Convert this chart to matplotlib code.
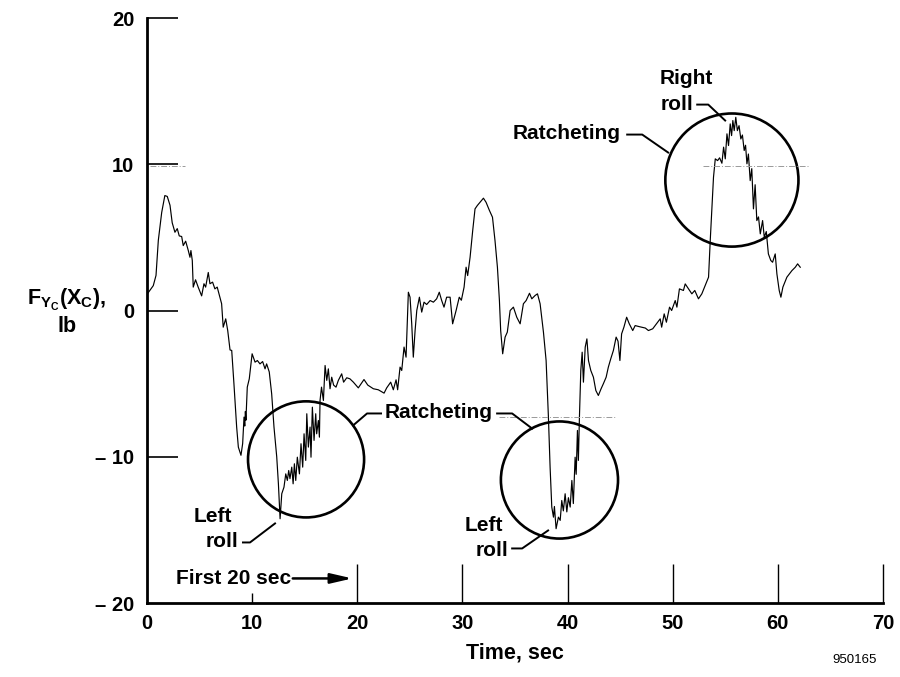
import matplotlib
matplotlib.use("Agg")
import matplotlib.pyplot as plt
from matplotlib.patches import Ellipse

plt.rcParams["font.family"] = ["Liberation Sans", "DejaVu Sans"]
plt.rcParams["font.weight"] = "bold"
plt.rcParams["mathtext.fontset"] = "custom"
plt.rcParams["mathtext.rm"] = "Liberation Sans:bold"
plt.rcParams["mathtext.it"] = "Liberation Sans:bold"
plt.rcParams["mathtext.bf"] = "Liberation Sans:bold"
plt.rcParams["mathtext.default"] = "rm"

# side force record, lb vs time, sec
time_s = [
    0.1, 0.6, 0.86, 1.08, 1.4, 1.7, 1.93, 2.19, 2.4, 2.66, 2.88, 3.07, 3.3, 3.45,
    3.68, 3.93, 4.09, 4.18, 4.31, 4.4, 4.62, 4.87, 5.2, 5.42, 5.58, 5.83, 5.99,
    6.24, 6.46, 6.68, 6.94, 7.1, 7.25, 7.49, 7.68, 7.9,
    8.06, 8.27, 8.53, 8.69, 8.94, 9.1, 9.23, 9.3, 9.36, 9.41, 9.54, 9.73, 9.86,
    10.0, 10.28, 10.5, 10.75, 11.0, 11.23, 11.38, 11.63, 11.86, 12.08, 12.34,
    12.5, 12.66, 12.82,
    13.03, 13.2, 13.35, 13.48, 13.6, 13.77, 13.9, 14.02, 14.15, 14.3, 14.5,
    14.65, 14.81, 14.94, 15.1, 15.2, 15.35, 15.51, 15.6, 15.73, 15.89, 16.05,
    16.14, 16.3, 16.4, 16.46,
    16.6, 16.78, 16.94, 17.1, 17.25, 17.41, 17.57, 17.75, 17.98, 18.2, 18.52,
    18.7, 19.0, 19.3, 19.63, 20.1, 20.64, 21.0, 21.53, 22.0, 22.55, 22.8, 23.18,
    23.43, 23.69, 23.84, 24.07, 24.23, 24.45, 24.64, 24.86, 25.02, 25.18, 25.33,
    25.5, 25.66, 25.91, 26.13, 26.35, 26.6, 26.93, 27.24, 27.55, 27.8, 28.03,
    28.25, 28.5, 28.83, 29.07, 29.4, 29.7, 29.9, 30.16, 30.35, 30.5, 30.73,
    30.98, 31.2, 31.42, 31.68, 32.0, 32.25, 32.57, 32.86, 33.1, 33.33, 33.52,
    33.64, 33.83, 34.06, 34.27, 34.54, 34.85, 35.17, 35.49, 35.8, 36.06, 36.38,
    36.6, 36.92, 37.14, 37.39, 37.71, 37.96, 38.18, 38.34, 38.5, 38.66, 38.75,
    38.91, 39.13, 39.3, 39.45, 39.6, 39.77, 39.93, 40.08, 40.25, 40.41, 40.55,
    40.72, 40.82, 40.94, 41.03, 41.13, 41.26, 41.39, 41.51, 41.68, 41.84, 41.99,
    42.21, 42.46, 42.69, 42.93, 43.19, 43.41, 43.67, 43.88, 44.11, 44.36, 44.62,
    44.8, 44.98, 45.14, 45.36, 45.62, 45.87, 46.2, 46.43, 46.8, 47.06, 47.4,
    47.69, 48.1, 48.81, 48.95, 49.19, 49.4, 49.7, 49.9, 50.24, 50.4, 50.64,
    51.02, 51.19, 51.5, 51.82, 52.1, 52.45, 52.77, 53.09, 53.41, 53.57, 53.73,
    53.88, 54.05, 54.27, 54.46, 54.68, 54.84, 55.0, 55.16, 55.31, 55.47, 55.6,
    55.72, 55.85, 56.0, 56.15, 56.31, 56.48, 56.63, 56.8, 56.93, 57.06, 57.2,
    57.37, 57.52, 57.68, 57.84, 58.0, 58.16, 58.33, 58.55, 58.71, 58.9, 59.1,
    59.33, 59.5, 59.75, 59.91, 60.13, 60.29, 60.48, 60.86, 61.34, 61.66, 61.88,
    62.13,
]
force_lb = [
    1.2, 1.7, 2.4, 4.8, 6.7, 7.86, 7.8, 7.2, 6.0, 5.35, 5.6, 5.1, 5.06, 4.44,
    4.74, 4.1, 3.64, 4.1, 3.42, 1.6, 2.1, 1.6, 1.0, 1.83, 1.6, 2.6, 1.83,
    1.94, 1.48, 1.6, 0.9, 0.46, -1.14, -0.57, -1.37, -2.7,
    -2.73, -5.0, -7.97, -9.34, -9.9, -9.1, -7.29, -7.9, -6.9, -7.5, -5.24, -4.67,
    -3.87, -2.96, -3.53, -3.42, -3.65, -3.49, -3.99, -3.65, -4.2, -5.7, -7.97,
    -10.0, -11.85, -14.24, -12.53,
    -12.08, -11.17, -11.62, -10.94, -11.5, -10.71, -11.85, -10.48, -11.62,
    -10.03, -11.17, -9.11, -10.71, -8.43, -10.25, -7.06, -9.34, -7.97, -10.03,
    -6.61, -8.88, -7.06, -8.43, -7.52, -8.66, -6.15,
    -5.24, -6.15, -3.76, -4.78, -3.99, -5.35, -4.56, -5.1, -5.24, -4.78, -4.33,
    -4.9, -4.6, -4.67, -4.9, -5.29, -4.72, -5.1, -5.35, -5.42, -5.65, -5.29,
    -4.9, -5.42, -4.74, -5.42, -3.87, -4.1, -2.5, -3.19, 1.25, 0.91, -0.91,
    -3.19, -1.37, 0.0, 0.91, -0.11, 0.57, 0.41, 0.68, 0.57, 0.8, 1.25, 0.68,
    0.23, 0.91, 0.91, -0.91, 0.0, 0.91, 0.7, 1.6, 2.96, 2.39, 3.64, 5.47, 6.95,
    7.18, 7.4, 7.68, 7.4, 6.84, 6.38, 4.78, 2.96, 0.68, -1.37, -2.96, -1.82,
    -1.48, 0.0, 0.23, -0.46, -0.91, 0.46, 0.68, 1.18, 0.8, 1.03, 1.14, 0.46,
    -1.5, -3.42, -7.29, -10.71, -13.44, -14.13, -13.4, -14.92, -14.13, -14.35,
    -12.99, -13.7, -12.53, -13.77, -12.8, -13.44, -11.62, -13.2, -10.03, -11.2,
    -8.2, -10.25, -7.29, -4.1, -2.85, -4.9, -2.5, -1.94, -3.42, -4.1, -4.56,
    -5.47, -5.81, -5.35, -5.0, -4.56, -3.87, -3.3, -2.73, -1.82, -2.1, -3.42,
    -1.6, -1.14, -0.46, -0.91, -1.37, -1.03, -1.1, -1.14, -1.2, -1.37, -1.25,
    -0.57, -1.14, -0.23, -0.8, 0.23, 0.0, 0.68, 0.23, 1.48, 1.37, 1.82, 1.48,
    1.14, 1.37, 0.8, 1.14, 1.71, 2.28, 4.78, 7.06, 9.11, 10.37, 10.25, 10.44,
    10.07, 11.17, 10.37, 12.08, 11.28, 12.76, 11.96, 12.99, 12.3, 13.21, 12.3,
    12.64, 11.73, 12.0, 10.94, 11.3, 10.03, 10.7, 8.88, 9.7, 6.95, 8.6, 6.15,
    6.4, 5.24, 6.15, 5.01, 5.4, 3.87, 3.42, 3.3, 3.87, 2.5, 1.37, 0.91, 1.6,
    2.28, 2.73, 2.96, 3.19, 2.96,
]

x_ticks = [0, 10, 20, 30, 40, 50, 60, 70]
y_ticks = [-20, -10, 0, 10, 20]
y_tick_labels = ["\u2013 20", "\u2013 10", "0", "10", "20"]

# gray trace reference lines: (t start, t end, level)
ref_lines = [(0.3, 3.6, 9.9), (33.5, 44.5, -7.3), (52.9, 62.9, 9.9)]

# highlighted regions: centre (t, lb) and radius in seconds
circles = [(15.13, -10.18, 5.52), (39.23, -11.59, 5.57), (55.63, 8.92, 6.33)]

fig = plt.figure(figsize=(9, 6.77), dpi=100)
ax = fig.add_axes([0.1633, 0.1093, 0.8178, 0.8641])

ax.plot(time_s, force_lb, color="black", lw=0.85)
for t0, t1, lvl in ref_lines:
    ax.plot([t0, t1], [lvl, lvl], color="#999999", lw=0.7, ls=(0, (6, 2, 1, 2)))

ax.set_xlim(0, 70)
ax.set_ylim(-20, 20)

# keep circles round on screen
bb = ax.get_window_extent()
sx = bb.width / 70.0
sy = bb.height / 40.0
for cx, cy, r in circles:
    ax.add_patch(Ellipse((cx, cy), 2 * r, 2 * r * sx / sy, fill=False,
                         ec="black", lw=1.9, clip_on=False))

for side in ("top", "right"):
    ax.spines[side].set_visible(False)
for side in ("left", "bottom"):
    ax.spines[side].set_linewidth(2.0)

ax.set_xticks(x_ticks)
ax.set_xticklabels([str(v) for v in x_ticks], fontsize=14.5, fontweight="bold")
ax.set_yticks(y_ticks)
ax.set_yticklabels(y_tick_labels, fontsize=14.5, fontweight="bold")
ax.tick_params(axis="y", direction="in", length=22, width=1.2, pad=9)
ax.tick_params(axis="x", direction="in", length=28, width=1.0, pad=8)
xt = ax.xaxis.get_major_ticks()
xt[0].tick1line.set_visible(False)
xt[1].tick1line.set_markersize(7)
ax.yaxis.get_major_ticks()[0].tick1line.set_visible(False)

ax.set_xlabel("Time, sec", fontsize=15.5, fontweight="bold", labelpad=7)

fig.text(0.074, 0.557, r"$F_{Y_C}(X_C)$,", ha="center", va="center", fontsize=15.5)
fig.text(0.074, 0.517, "lb", ha="center", va="center", fontsize=15.5)
fig.text(0.95, 0.025, "950165", ha="center", va="center", fontsize=9.5,
         fontweight="normal")

lab = dict(fontsize=15, fontweight="bold", clip_on=False)
leader = dict(color="black", lw=1.4, clip_on=False)

ax.text(8.09, -14.08, "Left", ha="right", va="center", **lab)
ax.text(8.66, -15.79, "roll", ha="right", va="center", **lab)
ax.plot([9.13, 9.8, 12.18], [-15.86, -15.86, -14.56], **leader)

ax.text(27.78, -6.97, "Ratcheting", ha="center", va="center", **lab)
ax.plot([19.6, 20.93, 22.26], [-7.86, -7.04, -7.04], **leader)
ax.plot([33.3, 34.73, 36.63], [-7.04, -7.04, -8.07], **leader)

ax.text(33.87, -14.7, "Left", ha="right", va="center", **lab)
ax.text(34.35, -16.4, "roll", ha="right", va="center", **lab)
ax.plot([34.73, 35.68, 38.15], [-16.27, -16.27, -15.04], **leader)

ax.text(45.0, 12.1, "Ratcheting", ha="right", va="center", **lab)
ax.plot([45.67, 47.1, 49.57], [12.03, 12.03, 10.8], **leader)

ax.text(51.3, 15.86, "Right", ha="center", va="center", **lab)
ax.text(51.95, 14.08, "roll", ha="right", va="center", **lab)
ax.plot([52.33, 53.38, 54.99], [14.08, 14.08, 12.99], **leader)

ax.annotate("", xy=(19.8, -18.32), xytext=(13.6, -18.32),
            arrowprops=dict(arrowstyle="-|>,head_length=1.3,head_width=0.3",
                            color="black", lw=1.8))
ax.text(2.76, -18.32, "First 20 sec", ha="left", va="center", **lab)

fig.savefig("out.png", dpi=100)
